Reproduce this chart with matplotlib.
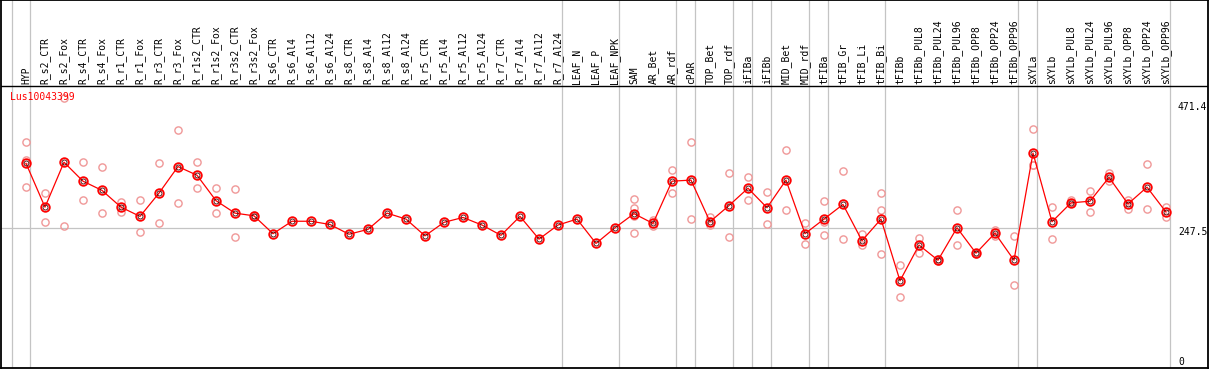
import matplotlib
matplotlib.use('Agg')
import matplotlib.pyplot as plt
import numpy as np

categories = ["HYP", "R_s2_CTR", "R_s2_Fox", "R_s4_CTR", "R_s4_Fox", "R_r1_CTR", "R_r1_Fox",
              "R_r3_CTR", "R_r3_Fox", "R_r1s2_CTR", "R_r1s2_Fox", "R_r3s2_CTR", "R_r3s2_Fox",
              "R_s6_CTR", "R_s6_Al4", "R_s6_Al12", "R_s6_Al24", "R_s8_CTR", "R_s8_Al4",
              "R_s8_Al12", "R_s8_Al24", "R_r5_CTR", "R_r5_Al4", "R_r5_Al12", "R_r5_Al24",
              "R_r7_CTR", "R_r7_Al4", "R_r7_Al12", "R_r7_Al24", "LEAF_N", "LEAF_P", "LEAF_NPK",
              "SAM", "AR_Bet", "AR_rdf", "cPAR", "TOP_Bet", "TOP_rdf", "iFIBa", "iFIBb",
              "MID_Bet", "MID_rdf", "tFIBa", "tFIB_Gr", "tFIB_Li", "tFIB_Bi", "tFIBb",
              "tFIBb_PUL8", "tFIBb_PUL24", "tFIBb_PUL96", "tFIBb_OPP8", "tFIBb_OPP24",
              "tFIBb_OPP96", "sXYLa", "sXYLb", "sXYLb_PUL8", "sXYLb_PUL24", "sXYLb_PUL96",
              "sXYLb_OPP8", "sXYLb_OPP24", "sXYLb_OPP96"]

means = [367, 286, 369, 334, 317, 286, 269, 312, 361, 345, 298, 275, 270,
         237, 260, 260, 254, 236, 245, 275, 264, 233, 258, 267, 253, 234, 269, 227, 253,
         264, 219, 248,
         274, 256, 334, 336, 259, 289, 321, 285, 336, 237,
         264, 291, 224, 264, 150, 216, 188, 248, 201, 238, 188,
         386, 259, 294, 297, 341, 292, 323, 277]

replicates = [
    [406, 373, 324], [313, 258], [487, 251], [369, 300], [361, 275], [296, 277],
    [299, 241], [367, 256], [428, 293], [369, 321], [321, 275], [319, 231], [272, 267],
    [], [], [], [], [], [], [], [], [], [], [], [], [], [], [], [],
    [], [], [],
    [301, 284, 270, 238], [263, 251], [355, 313], [406, 265], [268, 253], [350, 230],
    [341, 300], [314, 254], [391, 280], [257, 218],
    [297, 259, 235], [352, 228], [236, 216], [313, 280, 200], [179, 120], [229, 201],
    [190, 186], [281, 216], [202, 200], [244, 232], [233, 142],
    [430, 364, 364], [286, 228], [299, 293], [316, 278], [350, 335], [299, 282],
    [366, 283], [286, 267],
]

group_sizes = [1, 28, 3, 3, 1, 2, 1, 1, 2, 1, 3, 7, 1, 7]
gene_label = "Lus10043399"
scale_values = [471.4, 247.5, 0]
scale_labels = ["471.4", "247.5", "0"]

W, H = 1209, 370
fig = plt.figure(figsize=(W / 100, H / 100), dpi=100)
ax = fig.add_axes([1 / W, 2 / H, 1207 / W, 368 / H])

# pixel layout helpers
Y0, Y_TOP = 362.0, 106.8
ppu = (Y0 - Y_TOP) / scale_values[0]
def yv(p):
    return (Y0 - p) / ppu
X0, STEP = 26.0, 19.0
def xv(p):
    return (p - X0) / STEP

ax.set_ylim(yv(368), yv(0))
ax.set_xlim(xv(1), xv(1208))
ax.set_xticks([])
ax.set_yticks([])
for s in ax.spines.values():
    s.set_color('black')
    s.set_linewidth(1.3)

mono = 'DejaVu Sans Mono'
grey = '#c4c4c4'

# group separators
ends = np.cumsum(group_sizes) - 1
sep_off = 4 / STEP
ax.axvline(-1 + sep_off + 0.05, color=grey, lw=0.9, zorder=0)
for e in ends:
    ax.axvline(e + sep_off, color=grey, lw=0.9, zorder=0)

# header divider
ax.axhline(yv(86), color='black', lw=1.0, zorder=1)

# middle reference line
ax.hlines(scale_values[1], xv(1), ends[-1] + sep_off, color=grey, lw=0.9, zorder=0)

x = np.arange(len(categories))
for i, reps in enumerate(replicates):
    if reps:
        ax.plot([i] * len(reps), reps, 'o', mfc='none', mec='#f09898', ms=5.2, mew=1.0, zorder=2)

ax.plot(x, means, '-', color='#ff0000', lw=0.9, zorder=3)
ax.plot(x, means, 'o', mfc='none', mec='#ff0000', ms=6.2, mew=1.3, zorder=4)
ax.plot(x, means, 'o', mfc='none', mec='#400000', ms=3.6, mew=0.6, zorder=5)

for i, c in enumerate(categories):
    ax.text(i, yv(84), c, rotation=90, ha='center', va='bottom', fontsize=7,
            family=mono, color='black')

ax.text(xv(10), yv(97), gene_label, ha='left', va='center', fontsize=7, family=mono,
        color='#ff0000')

label_y_pix = [107, 232, 362]
for lab, yp in zip(scale_labels, label_y_pix):
    ax.text(xv(1178), yv(yp), lab, ha='left', va='center', fontsize=7, family=mono,
            color='black')

fig.savefig('out.png', dpi=100)
